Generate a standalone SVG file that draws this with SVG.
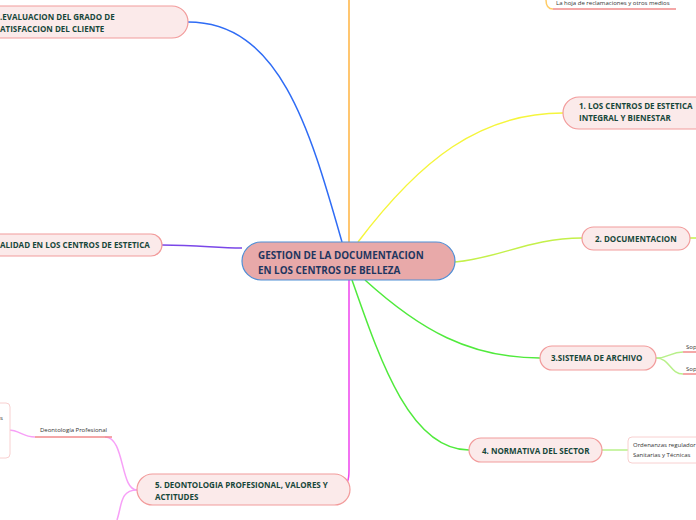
<svg xmlns="http://www.w3.org/2000/svg" width="696" height="520" viewBox="0 0 696 520">
<style>
.node{fill:#fbeaea;stroke:#f29b9b;stroke-width:1.2}
.leaf{fill:#ffffff;stroke:#f8d0d0;stroke-width:1}
.t{font-family:"Open Sans","Noto Sans",sans-serif;font-weight:bold;font-size:8px;fill:#17473a}
.c{font-family:"Open Sans","Noto Sans",sans-serif;font-weight:bold;font-size:9.9px;fill:#1f3660}
.s{font-family:"Open Sans","Noto Sans",sans-serif;font-size:6px;fill:#333}
.ln{fill:none;stroke-width:1.5}
.ul{stroke:#f08a8a;stroke-width:1.5}
</style>
<g id="connectors">
<path class="ln" stroke="#2f6cf5" d="M188,22 C280,22 310,130 342,242"/>
<path class="ln" stroke="#ffb340" d="M349,0 L349,242"/>
<path class="ln" stroke="#7a47e8" d="M162,245 C200,245 215,248 242,248"/>
<path class="ln" stroke="#f5f53c" d="M358,242 C420,160 480,113 563,113"/>
<path class="ln" stroke="#c4f04a" d="M455,262 C500,258 530,238 582,238"/>
<path class="ln" stroke="#c4f04a" d="M690,238 L696,238"/>
<path class="ln" stroke="#50ea3c" d="M365,280 C420,330 470,358 540,358"/>
<path class="ln" stroke="#50ea3c" d="M352,280 C380,360 410,450 469,450"/>
<path class="ln" stroke="#ee44ee" d="M349,280 L349,470 C349,480 348,485 340,486"/>
<path class="ln" stroke="#f7a0f7" stroke-width="1" d="M137,490 C120,490 125,437 105,437"/>
<path class="ln" stroke="#f7a0f7" stroke-width="1" d="M137,490 C120,490 122,505 117,520"/>
<path class="ln" stroke="#f7a0f7" stroke-width="1" d="M35,437 C22,437 20,430 8,430"/>
<path class="ln" stroke="#b8f08a" stroke-width="1" d="M656,358 C670,358 670,352 683,352"/>
<path class="ln" stroke="#b8f08a" stroke-width="1" d="M656,358 C670,358 670,374 683,374"/>
<path class="ln" stroke="#b8f08a" stroke-width="1" d="M602,450 L628,450"/>
<path class="ln" stroke="#ffcc66" stroke-width="1" d="M546,0 C546,5 548,9 553,9"/>
</g>
<g id="center">
<rect x="242" y="242" width="213" height="38" rx="19" fill="#e8a9a9" stroke="#4f8fd6" stroke-width="1.2"/>
<text class="c" x="258" y="259">GESTION DE LA DOCUMENTACION</text>
<text class="c" x="258" y="274">EN LOS CENTROS DE BELLEZA</text>
</g>
<g id="n-evaluacion">
<rect class="node" x="-20" y="6" width="208" height="32" rx="16"/>
<text class="t" x="0" y="20">.EVALUACION DEL GRADO DE</text>
<text class="t" x="0" y="32">ATISFACCION DEL CLIENTE</text>
</g>
<g id="n-calidad">
<rect class="node" x="-20" y="234" width="182" height="22" rx="11"/>
<text class="t" x="0" y="248">ALIDAD EN LOS CENTROS DE ESTETICA</text>
</g>
<g id="n-hoja">
<line class="ul" x1="553" y1="9" x2="676" y2="9"/>
<text class="s" x="556" y="5">La hoja de reclamaciones y otros medios</text>
</g>
<g id="n1">
<rect class="node" x="563" y="97" width="150" height="32" rx="16"/>
<text class="t" x="579" y="109">1. LOS CENTROS DE ESTETICA</text>
<text class="t" x="579" y="121">INTEGRAL Y BIENESTAR</text>
</g>
<g id="n2">
<rect class="node" x="582" y="227" width="108" height="23" rx="11.5"/>
<text class="t" x="595" y="241.5">2. DOCUMENTACION</text>
</g>
<g id="n3">
<rect class="node" x="540" y="346" width="116" height="24" rx="12"/>
<text class="t" x="551" y="361">3.SISTEMA DE ARCHIVO</text>
</g>
<g id="n3a">
<line class="ul" x1="683" y1="352" x2="700" y2="352"/>
<text class="s" x="686" y="349">Sop</text>
</g>
<g id="n3b">
<line class="ul" x1="683" y1="374" x2="700" y2="374"/>
<text class="s" x="686" y="371">Sop</text>
</g>
<g id="n4">
<rect class="node" x="469" y="438" width="133" height="24" rx="12"/>
<text class="t" x="482" y="453.5">4. NORMATIVA DEL SECTOR</text>
</g>
<g id="n4a">
<rect class="leaf" x="628" y="437" width="80" height="26" rx="4"/>
<text class="s" x="633" y="447">Ordenanzas regulador</text>
<text class="s" x="633" y="457">Sanitarias y Técnicas</text>
</g>
<g id="n5">
<rect class="node" x="137" y="474" width="213" height="31" rx="15.5"/>
<text class="t" x="155" y="488">5. DEONTOLOGIA PROFESIONAL, VALORES Y</text>
<text class="t" x="155" y="500">ACTITUDES</text>
</g>
<g id="n5a">
<line class="ul" x1="35" y1="437" x2="112" y2="437"/>
<text class="s" x="40" y="432">Deontología Profesional</text>
</g>
<g id="n5b">
<rect class="leaf" x="-20" y="403" width="30" height="55" rx="4"/>
<text class="s" x="0" y="420">s</text>
</g>
</svg>
